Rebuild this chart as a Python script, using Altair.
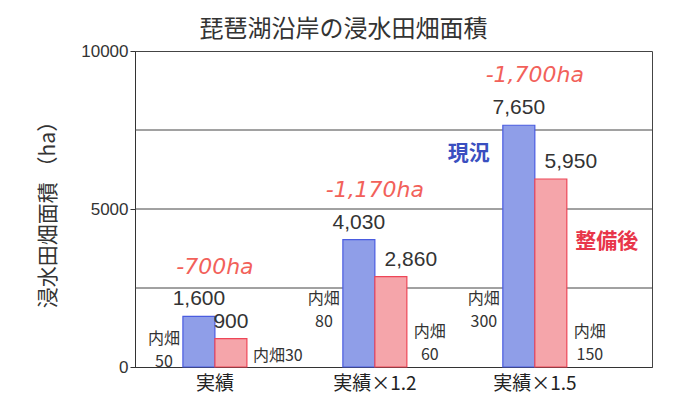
import altair as alt
import pandas as pd

# ---- data ----
categories = ["実績", "実績×1.2", "実績×1.5"]
series = ["現況", "整備後"]
current = [1600, 4030, 7650]          # 現況
improved = [900, 2860, 5950]          # 整備後
reduction = ["-700ha", "-1,170ha", "-1,700ha"]
inner_current = [50, 80, 300]         # 内畑 (現況)
inner_improved = [30, 60, 150]        # 内畑 (整備後)
grid_values = [2500, 5000, 7500]
y_ticks = [0, 5000, 10000]

# ---- styling / layout constants ----
BLUE_FILL, BLUE_STROKE = "#8f9ee8", "#4a5ce0"
RED_FILL, RED_STROKE = "#f5a5aa", "#ee4657"
BLUE_TXT, RED_TXT, ANN_RED = "#3a4fc0", "#e8364a", "#f2615a"
JP = "Noto Sans CJK JP"
NUM = "Liberation Sans, Noto Sans CJK JP"
TXT = "#333333"

bars_df = pd.DataFrame({
    "cat": categories * 2,
    "series": [series[0]] * 3 + [series[1]] * 3,
    "value": current + improved,
})
bars_df["label"] = bars_df["value"].map(lambda v: f"{v:,}")
bars_df["grp"] = [0, 1, 2, 0, 1, 2]

red_df = pd.DataFrame({
    "cat": categories,
    "text": reduction,
    "y": [max(a, b) + 1200 for a, b in zip(current, improved)],
})

# anchors (data units) for the first line of the small 内畑 annotations
inner_df = pd.DataFrame({
    "cat": categories * 2,
    "series": [series[0]] * 3 + [series[1]] * 3,
    "text": [f"内畑\n{v}" for v in inner_current]
            + [f"内畑{inner_improved[0]}"] + [f"内畑\n{v}" for v in inner_improved[1:]],
    "y": [890, 2150, 2150, 350, 1110, 1110],
    "grp": [0, 1, 2, 0, 1, 2],
})

legend_df = pd.DataFrame({
    "cat": [categories[2], categories[2]],
    "series": series,
    "y": [6740, 3960],
})

grid_df = pd.DataFrame({"g": grid_values})

x_scale = alt.Scale(domain=categories, paddingInner=0.6, paddingOuter=0.416, align=0.36)
y_scale = alt.Scale(domain=[0, 10000], nice=False)
off_scale = alt.Scale(domain=series, paddingInner=0, paddingOuter=0)

x_axis = alt.Axis(title=None, labelAngle=0, ticks=False, domain=True, domainColor="#333",
                  labelFont=JP, labelFontSize=19, labelColor="#222", labelPadding=7, grid=False)
y_axis = alt.Axis(title="浸水田畑面積 （ha）", values=y_ticks, format="d", grid=False, tickSize=5,
                  tickColor="#333", domainColor="#333", labelFont=NUM, labelFontSize=17,
                  labelColor=TXT, labelPadding=2, titleFont=JP, titleFontSize=21,
                  titleFontWeight="normal", titleColor=TXT, titlePadding=22)


def X():
    return alt.X("cat:N", sort=categories, scale=x_scale, axis=x_axis)


def XO():
    return alt.XOffset("series:N", sort=series, scale=off_scale)


def Y(field):
    return alt.Y(f"{field}:Q", scale=y_scale, axis=y_axis)


grid = alt.Chart(grid_df).mark_rule(color="#444", strokeWidth=1).encode(y=Y("g"))

bars = alt.Chart(bars_df).mark_bar(strokeWidth=1.2).encode(
    x=X(), xOffset=XO(), y=Y("value"),
    fill=alt.Fill("series:N", scale=alt.Scale(domain=series, range=[BLUE_FILL, RED_FILL]), legend=None),
    stroke=alt.Stroke("series:N", scale=alt.Scale(domain=series, range=[BLUE_STROKE, RED_STROKE]), legend=None),
)

val_base = alt.Chart(bars_df).encode(x=X(), xOffset=XO(), y=Y("value"), text="label:N")
val_center = val_base.transform_filter("datum.grp == 0 || datum.series == '現況'").mark_text(
    font=NUM, fontSize=21, color=TXT, baseline="bottom", dy=-7)
val_right = val_base.transform_filter("datum.grp > 0 && datum.series == '整備後'").mark_text(
    font=NUM, fontSize=21, color=TXT, baseline="bottom", dy=-7, dx=20)

red_txt = alt.Chart(red_df).mark_text(
    font="DejaVu Sans", fontStyle="italic", fontSize=22, color=ANN_RED, baseline="bottom"
).encode(x=X(), y=Y("y"), text="text:N")

inner_base = alt.Chart(inner_df).encode(x=X(), xOffset=XO(), y=Y("y"), text="text:N")
inner_blue = inner_base.transform_filter("datum.series == '現況'").mark_text(
    font=JP, fontSize=16, color=TXT, lineBreak="\n", lineHeight=23, baseline="middle", dx=-35)
inner_red = inner_base.transform_filter("datum.series == '整備後' && datum.grp > 0").mark_text(
    font=JP, fontSize=16, color=TXT, lineBreak="\n", lineHeight=23, baseline="middle", dx=39)
inner_red0 = inner_base.transform_filter("datum.series == '整備後' && datum.grp == 0").mark_text(
    font=JP, fontSize=16, color=TXT, baseline="middle", align="left", dx=22)

leg_base = alt.Chart(legend_df).encode(x=X(), xOffset=XO(), y=Y("y"), text="series:N")
leg_blue = leg_base.transform_filter("datum.series == '現況'").mark_text(
    font=JP, fontSize=21, fontWeight="bold", color=BLUE_TXT, baseline="middle", dx=-50)
leg_red = leg_base.transform_filter("datum.series == '整備後'").mark_text(
    font=JP, fontSize=21, fontWeight="bold", color=RED_TXT, baseline="middle", dx=56)

chart = alt.layer(
    grid, bars, val_center, val_right, red_txt, inner_blue, inner_red, inner_red0, leg_blue, leg_red
).properties(
    width=517, height=316,
    title=alt.Title("琵琶湖沿岸の浸水田畑面積", font=JP, fontSize=24, fontWeight="normal",
                    color=TXT, anchor="middle", dx=-50, offset=0),
    padding={"left": 29, "top": 10, "right": 5, "bottom": 0},
    background="white",
).configure_view(stroke="#444", strokeWidth=1)

chart.save("out.html", embed_options={"renderer": "svg", "actions": False})
